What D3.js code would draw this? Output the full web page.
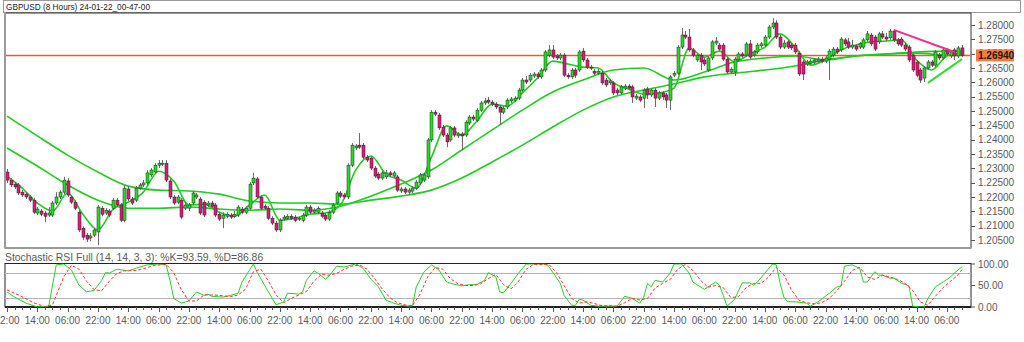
<!DOCTYPE html>
<html><head>
<meta charset="utf-8">
<title>GBPUSD (8 Hours)</title>
<style>
  body {margin:0; background:#fff;}
  svg {display:block; font-family:"Liberation Sans", Arial, sans-serif;}
</style>
</head>
<body>
<script src="https://d3js.org/d3.v7.min.js"></script>
<script>
// ---- data ----
var title = "GBPUSD (8 Hours) 24-01-22_00-47-00";
var stochTitle = "Stochastic RSI Full (14, 14, 3, 3): %K=93.59, %D=86.86";
var lastPrice = 1.2694;
var priceTicks = [1.280,1.275,1.270,1.265,1.260,1.255,1.250,1.245,1.240,1.235,1.230,1.225,1.220,1.215,1.210,1.205];
var stochTicks = [100, 50, 0];
var stochLevels = [80, 20];
var timeLabels = ["22:00","14:00","06:00","22:00","14:00","06:00","22:00","14:00","06:00","22:00",
                  "14:00","06:00","22:00","14:00","06:00","22:00","14:00","06:00","22:00","14:00",
                  "06:00","22:00","14:00","06:00","22:00","14:00","06:00","22:00","14:00","06:00",
                  "14:00","06:00"];

var opens = [1.2287,1.2259,1.2245,1.2242,1.2217,1.2210,1.2200,1.2189,1.2144,1.2151,
1.2144,1.2137,1.2137,1.2179,1.2200,1.2217,1.2256,1.2200,1.2182,1.2147,
1.2091,1.2067,1.2057,1.2067,1.2078,1.2161,1.2144,1.2151,1.2161,1.2189,
1.2172,1.2119,1.2228,1.2193,1.2189,1.2231,1.2242,1.2249,1.2277,1.2287,
1.2311,1.2315,1.2318,1.2256,1.2200,1.2182,1.2189,1.2161,1.2161,1.2179,
1.2200,1.2193,1.2182,1.2172,1.2179,1.2172,1.2140,1.2126,1.2133,1.2137,
1.2133,1.2137,1.2158,1.2147,1.2161,1.2249,1.2263,1.2200,1.2168,1.2161,
1.2126,1.2109,1.2085,1.2123,1.2126,1.2133,1.2130,1.2123,1.2119,1.2137,
1.2165,1.2147,1.2147,1.2144,1.2137,1.2123,1.2147,1.2179,1.2214,1.2207,
1.2200,1.2311,1.2371,1.2381,1.2381,1.2339,1.2336,1.2301,1.2280,1.2266,
1.2270,1.2284,1.2273,1.2270,1.2221,1.2228,1.2217,1.2221,1.2231,1.2249,
1.2259,1.2270,1.2399,1.2496,1.2486,1.2444,1.2416,1.2399,1.2441,1.2413,
1.2420,1.2416,1.2458,1.2479,1.2468,1.2503,1.2528,1.2538,1.2531,1.2524,
1.2514,1.2496,1.2514,1.2535,1.2538,1.2545,1.2573,1.2608,1.2608,1.2622,
1.2629,1.2619,1.2643,1.2695,1.2713,1.2692,1.2685,1.2695,1.2625,1.2619,
1.2643,1.2643,1.2709,1.2678,1.2653,1.2639,1.2632,1.2632,1.2608,1.2598,
1.2598,1.2573,1.2563,1.2580,1.2587,1.2584,1.2545,1.2549,1.2545,1.2577,
1.2556,1.2573,1.2545,1.2563,1.2556,1.2538,1.2625,1.2632,1.2723,1.2765,
1.2758,1.2713,1.2678,1.2695,1.2678,1.2643,1.2685,1.2737,1.2730,1.2730,
1.2681,1.2636,1.2636,1.2678,1.2699,1.2695,1.2734,1.2695,1.2706,1.2727,
1.2730,1.2758,1.2793,1.2807,1.2758,1.2723,1.2741,1.2730,1.2730,1.2702,
1.2671,1.2664,1.2667,1.2671,1.2674,1.2681,1.2674,1.2681,1.2695,1.2716,
1.2713,1.2748,1.2741,1.2723,1.2727,1.2723,1.2723,1.2748,1.2765,1.2758,
1.2741,1.2769,1.2758,1.2755,1.2779,1.2748,1.2751,1.2730,1.2723,1.2695,
1.2671,1.2643,1.2615,1.2650,1.2671,1.2660,1.2695,1.2685,1.2713,1.2692,
1.2713,1.2692,1.2720];

var highs = [1.2298,1.2266,1.2252,1.2249,1.2224,1.2217,1.2207,1.2196,1.2165,1.2158,
1.2151,1.2165,1.2186,1.2217,1.2224,1.2270,1.2266,1.2207,1.2189,1.2154,
1.2098,1.2074,1.2074,1.2091,1.2172,1.2168,1.2161,1.2158,1.2196,1.2196,
1.2179,1.2242,1.2238,1.2200,1.2238,1.2249,1.2259,1.2294,1.2301,1.2318,
1.2329,1.2329,1.2329,1.2263,1.2207,1.2207,1.2196,1.2182,1.2179,1.2221,
1.2214,1.2200,1.2189,1.2186,1.2186,1.2179,1.2147,1.2147,1.2147,1.2144,
1.2151,1.2172,1.2165,1.2168,1.2252,1.2284,1.2270,1.2207,1.2175,1.2168,
1.2133,1.2116,1.2126,1.2137,1.2140,1.2140,1.2137,1.2133,1.2144,1.2172,
1.2172,1.2161,1.2168,1.2151,1.2144,1.2154,1.2179,1.2221,1.2221,1.2214,
1.2318,1.2388,1.2385,1.2423,1.2388,1.2346,1.2343,1.2308,1.2287,1.2291,
1.2294,1.2291,1.2291,1.2277,1.2235,1.2235,1.2231,1.2238,1.2259,1.2284,
1.2284,1.2406,1.2503,1.2503,1.2493,1.2451,1.2423,1.2448,1.2448,1.2427,
1.2427,1.2468,1.2486,1.2486,1.2510,1.2535,1.2545,1.2549,1.2538,1.2531,
1.2521,1.2517,1.2545,1.2549,1.2552,1.2580,1.2615,1.2622,1.2632,1.2636,
1.2636,1.2650,1.2713,1.2730,1.2730,1.2699,1.2702,1.2702,1.2632,1.2650,
1.2650,1.2713,1.2720,1.2685,1.2660,1.2646,1.2646,1.2639,1.2615,1.2612,
1.2605,1.2580,1.2591,1.2594,1.2594,1.2591,1.2559,1.2556,1.2580,1.2584,
1.2580,1.2580,1.2570,1.2570,1.2563,1.2625,1.2639,1.2730,1.2790,1.2779,
1.2786,1.2720,1.2702,1.2702,1.2685,1.2692,1.2748,1.2758,1.2737,1.2737,
1.2688,1.2653,1.2688,1.2706,1.2706,1.2741,1.2748,1.2713,1.2737,1.2741,
1.2765,1.2800,1.2824,1.2817,1.2765,1.2748,1.2748,1.2737,1.2737,1.2709,
1.2678,1.2678,1.2681,1.2685,1.2688,1.2688,1.2692,1.2716,1.2723,1.2723,
1.2758,1.2755,1.2755,1.2748,1.2734,1.2741,1.2755,1.2779,1.2772,1.2765,
1.2776,1.2779,1.2772,1.2786,1.2786,1.2755,1.2758,1.2737,1.2730,1.2702,
1.2678,1.2650,1.2657,1.2678,1.2678,1.2713,1.2702,1.2720,1.2720,1.2713,
1.2720,1.2727,1.2730];

var lows = [1.2249,1.2235,1.2228,1.2207,1.2200,1.2193,1.2182,1.2140,1.2137,1.2133,
1.2112,1.2130,1.2130,1.2172,1.2193,1.2210,1.2200,1.2175,1.2154,1.2078,
1.2050,1.2043,1.2046,1.2060,1.2032,1.2133,1.2137,1.2130,1.2154,1.2165,
1.2112,1.2112,1.2186,1.2172,1.2182,1.2224,1.2235,1.2242,1.2270,1.2280,
1.2301,1.2308,1.2252,1.2193,1.2172,1.2175,1.2123,1.2154,1.2151,1.2172,
1.2193,1.2137,1.2130,1.2165,1.2161,1.2130,1.2116,1.2091,1.2126,1.2123,
1.2126,1.2130,1.2140,1.2140,1.2154,1.2242,1.2193,1.2154,1.2154,1.2119,
1.2102,1.2078,1.2078,1.2116,1.2119,1.2119,1.2112,1.2116,1.2112,1.2130,
1.2140,1.2140,1.2140,1.2126,1.2116,1.2116,1.2140,1.2172,1.2196,1.2193,
1.2193,1.2304,1.2364,1.2367,1.2332,1.2322,1.2294,1.2266,1.2259,1.2259,
1.2263,1.2270,1.2266,1.2217,1.2214,1.2210,1.2207,1.2214,1.2224,1.2242,
1.2252,1.2263,1.2392,1.2482,1.2434,1.2409,1.2374,1.2392,1.2409,1.2406,
1.2364,1.2409,1.2451,1.2465,1.2461,1.2496,1.2521,1.2524,1.2517,1.2507,
1.2451,1.2489,1.2507,1.2528,1.2531,1.2538,1.2566,1.2594,1.2601,1.2615,
1.2612,1.2612,1.2636,1.2688,1.2681,1.2678,1.2678,1.2618,1.2612,1.2612,
1.2615,1.2636,1.2671,1.2646,1.2643,1.2625,1.2625,1.2591,1.2584,1.2591,
1.2556,1.2556,1.2556,1.2573,1.2573,1.2528,1.2538,1.2531,1.2510,1.2542,
1.2549,1.2514,1.2538,1.2538,1.2510,1.2503,1.2618,1.2625,1.2716,1.2751,
1.2706,1.2688,1.2671,1.2643,1.2657,1.2636,1.2678,1.2730,1.2709,1.2674,
1.2629,1.2629,1.2622,1.2671,1.2685,1.2688,1.2681,1.2688,1.2699,1.2720,
1.2723,1.2751,1.2786,1.2751,1.2716,1.2716,1.2716,1.2713,1.2699,1.2622,
1.2608,1.2657,1.2660,1.2664,1.2667,1.2667,1.2667,1.2608,1.2688,1.2699,
1.2706,1.2727,1.2716,1.2716,1.2709,1.2716,1.2716,1.2741,1.2727,1.2709,
1.2734,1.2751,1.2744,1.2748,1.2741,1.2727,1.2723,1.2709,1.2671,1.2636,
1.2618,1.2598,1.2601,1.2643,1.2653,1.2653,1.2678,1.2678,1.2692,1.2685,
1.2678,1.2685,1.2688];

var closes = [1.2259,1.2242,1.2235,1.2214,1.2207,1.2200,1.2189,1.2147,1.2158,1.2140,
1.2133,1.2144,1.2179,1.2200,1.2217,1.2259,1.2207,1.2182,1.2161,1.2085,
1.2060,1.2053,1.2064,1.2085,1.2165,1.2140,1.2154,1.2137,1.2189,1.2172,
1.2119,1.2231,1.2193,1.2179,1.2231,1.2242,1.2249,1.2284,1.2294,1.2311,
1.2318,1.2318,1.2259,1.2200,1.2179,1.2200,1.2130,1.2172,1.2172,1.2214,
1.2207,1.2144,1.2137,1.2179,1.2168,1.2137,1.2123,1.2137,1.2140,1.2130,
1.2140,1.2165,1.2147,1.2161,1.2245,1.2266,1.2200,1.2161,1.2161,1.2126,
1.2109,1.2085,1.2119,1.2130,1.2133,1.2126,1.2119,1.2126,1.2137,1.2165,
1.2147,1.2154,1.2161,1.2133,1.2123,1.2147,1.2172,1.2214,1.2203,1.2200,
1.2311,1.2381,1.2378,1.2374,1.2339,1.2329,1.2301,1.2273,1.2266,1.2284,
1.2284,1.2277,1.2284,1.2224,1.2228,1.2217,1.2224,1.2231,1.2252,1.2277,
1.2277,1.2399,1.2496,1.2489,1.2441,1.2416,1.2392,1.2441,1.2416,1.2420,
1.2413,1.2461,1.2479,1.2472,1.2503,1.2528,1.2535,1.2531,1.2524,1.2514,
1.2496,1.2510,1.2538,1.2542,1.2545,1.2573,1.2608,1.2601,1.2625,1.2629,
1.2619,1.2643,1.2706,1.2713,1.2688,1.2685,1.2695,1.2625,1.2619,1.2643,
1.2625,1.2706,1.2678,1.2653,1.2650,1.2632,1.2639,1.2598,1.2591,1.2605,
1.2563,1.2563,1.2584,1.2587,1.2580,1.2549,1.2552,1.2538,1.2573,1.2556,
1.2573,1.2545,1.2563,1.2549,1.2538,1.2619,1.2632,1.2723,1.2765,1.2758,
1.2713,1.2695,1.2695,1.2671,1.2664,1.2685,1.2741,1.2744,1.2716,1.2681,
1.2636,1.2646,1.2681,1.2699,1.2692,1.2734,1.2688,1.2706,1.2730,1.2734,
1.2758,1.2793,1.2807,1.2758,1.2723,1.2737,1.2723,1.2720,1.2706,1.2629,
1.2629,1.2671,1.2674,1.2678,1.2681,1.2674,1.2685,1.2709,1.2716,1.2706,
1.2751,1.2734,1.2723,1.2730,1.2716,1.2734,1.2748,1.2769,1.2734,1.2716,
1.2769,1.2758,1.2751,1.2779,1.2748,1.2734,1.2730,1.2716,1.2678,1.2643,
1.2625,1.2608,1.2650,1.2671,1.2660,1.2706,1.2685,1.2713,1.2699,1.2706,
1.2692,1.2720,1.2694];

// moving averages, read every 4 bars (fast) and every 8 bars (medium, slow)
var maFast = [1.2273,1.2231,1.2179,1.2151,1.2214,1.2140,1.2085,1.2158,1.2182,1.2217,
1.2290,1.2256,1.2172,1.2175,1.2147,1.2133,1.2172,1.2207,1.2119,1.2126,
1.2140,1.2144,1.2172,1.2294,1.2343,1.2280,1.2259,1.2231,1.2339,1.2448,
1.2416,1.2465,1.2524,1.2517,1.2563,1.2615,1.2674,1.2664,1.2653,1.2650,
1.2598,1.2577,1.2559,1.2563,1.2580,1.2720,1.2688,1.2709,1.2671,1.2699,
1.2723,1.2769,1.2723,1.2660,1.2678,1.2713,1.2730,1.2741,1.2744,1.2748,
1.2678,1.2643,1.2692,1.2702];
var maMid = [1.2371,1.2308,1.2242,1.2189,1.2161,1.2161,1.2165,1.2158,1.2154,1.2158,
1.2154,1.2168,1.2203,1.2245,1.2294,1.2364,1.2434,1.2503,1.2566,1.2608,
1.2643,1.2650,1.2608,1.2636,1.2671,1.2685,1.2692,1.2678,1.2692,1.2699,
1.2702,1.2695,1.2695];
var maSlow = [1.2482,1.2413,1.2346,1.2287,1.2238,1.2224,1.2221,1.2210,1.2186,1.2179,
1.2179,1.2175,1.2189,1.2203,1.2224,1.2266,1.2322,1.2381,1.2444,1.2503,
1.2549,1.2573,1.2594,1.2619,1.2632,1.2643,1.2657,1.2678,1.2692,1.2699,
1.2706,1.2709,1.2709];

// stochastic RSI: [bar, value]
var stochK = [[0,35],[2,23],[5,9],[8,0],[11,2],[13,98],[15,100],[17,86],[19,51],[21,35],[23,39],[25,62],[26,80],[27,79],[29,88],[32,84],[34,90],[37,98],[40,100],[42,98],[43,62],[44,20],[46,9],[48,14],[50,35],[52,27],[53,30],[54,25],[57,23],[59,27],[61,32],[62,58],[65,100],[66,81],[69,35],[71,5],[73,12],[74,32],[77,30],[78,35],[79,62],[81,84],[82,79],[84,65],[85,72],[87,95],[89,93],[91,98],[92,100],[94,90],[96,65],[98,47],[100,16],[102,9],[104,4],[106,2],[107,3],[108,47],[110,81],[112,98],[114,86],[116,58],[118,53],[120,49],[122,52],[124,52],[126,62],[127,80],[129,70],[130,35],[131,33],[133,55],[135,79],[137,100],[142,100],[143,94],[146,55],[147,27],[149,4],[150,4],[151,18],[152,16],[154,4],[156,2],[160,2],[161,2],[163,25],[165,20],[167,9],[168,23],[169,55],[170,47],[171,62],[173,58],[175,79],[176,100],[178,100],[180,79],[181,58],[184,41],[185,47],[187,58],[188,51],[189,27],[190,2],[192,18],[194,56],[196,56],[197,51],[198,58],[200,79],[202,100],[203,98],[204,55],[205,23],[206,12],[208,12],[211,9],[212,2],[214,12],[217,32],[219,47],[220,47],[221,95],[223,98],[225,90],[226,58],[227,58],[229,82],[230,74],[231,74],[233,67],[234,67],[236,56],[238,49],[239,2],[241,0],[242,0],[243,20],[245,47],[247,58],[249,70],[250,79],[252,93.59]];
var stochD = [[0,40],[3,28],[7,10],[10,1],[12,5],[15,70],[17,97],[19,88],[21,60],[23,40],[25,38],[27,60],[29,78],[31,84],[34,85],[36,89],[39,97],[42,99],[44,80],[46,40],[48,14],[50,14],[52,28],[54,28],[56,27],[59,24],[61,28],[63,42],[65,82],[67,88],[69,60],[71,28],[73,10],[75,20],[77,28],[79,36],[81,60],[83,76],[85,74],[87,78],[89,88],[91,95],[93,98],[95,88],[97,66],[99,42],[101,22],[103,10],[105,5],[107,3],[109,30],[111,70],[113,92],[115,88],[117,66],[119,54],[121,50],[123,50],[125,54],[127,66],[129,76],[131,52],[133,42],[135,60],[137,88],[139,99],[143,99],[145,80],[147,50],[149,20],[151,9],[153,12],[155,8],[157,3],[161,2],[163,10],[165,20],[167,16],[169,20],[171,44],[173,55],[175,64],[177,88],[179,99],[181,85],[183,62],[185,46],[187,50],[189,45],[191,22],[193,24],[195,45],[197,55],[199,55],[201,70],[203,92],[205,75],[207,40],[209,15],[211,10],[213,7],[215,10],[217,20],[219,38],[221,60],[223,85],[225,92],[227,70],[229,64],[231,74],[233,70],[235,64],[237,55],[239,38],[241,12],[243,4],[245,25],[247,45],[249,60],[251,75],[252,86.86]];

// hand-drawn trend lines: [bar, price]
var trendDown = [[234,1.2783],[250,1.2706]];
var trendUp = [[243,1.2598],[252,1.2681]];

// ---- layout ----
var W = 1024, H = 342;
var left = 5, right = 971;
var mainTop = 13, mainBot = 248;
var stTop = 263.5, stBot = 307;

var svg = d3.select("body").append("svg").attr("width", W).attr("height", H);

var x = d3.scaleLinear().domain([0, closes.length - 1]).range([7, 962]);
var y = d3.scaleLinear().domain([1.205, 1.28]).range([240, 25]);
var ys = d3.scaleLinear().domain([0, 100]).range([stBot, 264]);

var defs = svg.append("defs");
defs.append("clipPath").attr("id", "clipMain").append("rect")
    .attr("x", left + 1).attr("y", mainTop + 1).attr("width", right - left - 2).attr("height", mainBot - mainTop - 2);
defs.append("clipPath").attr("id", "clipSt").append("rect")
    .attr("x", left + 1).attr("y", stTop).attr("width", right - left - 2).attr("height", stBot - stTop);

// title bar
svg.append("rect").attr("x", 3.5).attr("y", 0.5).attr("width", 1017).attr("height", 12)
    .attr("fill", "#fff").attr("stroke", "#9a9a9a");
svg.append("text").attr("x", 6).attr("y", 10).attr("font-size", 9.5).attr("fill", "#222")
    .attr("textLength", 144).attr("lengthAdjust", "spacingAndGlyphs").text(title);

// main frame
svg.append("rect").attr("x", left).attr("y", mainTop).attr("width", right - left).attr("height", mainBot - mainTop)
    .attr("fill", "#fff").attr("stroke", "#333").attr("stroke-width", 1);
svg.append("line").attr("x1", left).attr("x2", left).attr("y1", 12).attr("y2", mainBot)
    .attr("stroke", "#9a9a9a").attr("stroke-width", 2);
svg.append("line").attr("x1", left).attr("x2", right).attr("y1", mainBot).attr("y2", mainBot)
    .attr("stroke", "#9a9a9a").attr("stroke-width", 2);

var plot = svg.append("g").attr("clip-path", "url(#clipMain)");

// current price line
plot.append("line").attr("x1", left).attr("x2", right)
    .attr("y1", y(lastPrice)).attr("y2", y(lastPrice))
    .attr("stroke", "#d9652b").attr("stroke-width", 1.5);

// moving averages
var maLine = d3.line().x(function(d){ return x(d[0]); }).y(function(d){ return y(d[1]); })
    .curve(d3.curveMonotoneX);
var fastIdx = d3.range(0, 253, 4);
var slowIdx = d3.range(0, 249, 8).concat([252]);
[[fastIdx, maFast], [slowIdx, maMid], [slowIdx, maSlow]].forEach(function(p){
  plot.append("path")
      .attr("d", maLine(p[0].map(function(b, i){ return [b, p[1][i]]; })))
      .attr("fill", "none").attr("stroke", "#1fcc1f").attr("stroke-width", 1.6);
});

// candles
var bars = d3.range(closes.length);
plot.selectAll("line.wick").data(bars).enter().append("line").attr("class", "wick")
    .attr("x1", function(i){ return Math.round(x(i)) + 0.5; })
    .attr("x2", function(i){ return Math.round(x(i)) + 0.5; })
    .attr("y1", function(i){ return y(highs[i]); })
    .attr("y2", function(i){ return y(lows[i]); })
    .attr("stroke", "#6b6b6b").attr("stroke-width", 1);
plot.selectAll("rect.body").data(bars).enter().append("rect").attr("class", "body")
    .attr("x", function(i){ return Math.round(x(i)) - 1; })
    .attr("width", 3)
    .attr("y", function(i){ return y(Math.max(opens[i], closes[i])); })
    .attr("height", function(i){ return Math.max(1, Math.abs(y(opens[i]) - y(closes[i]))); })
    .attr("fill", function(i){ return closes[i] >= opens[i] ? "#21e021" : "#e3167a"; })
    .attr("stroke", "#222").attr("stroke-width", 0.5);

// trend lines
var tl = d3.line().x(function(d){ return x(d[0]); }).y(function(d){ return y(d[1]); });
plot.append("path").attr("d", tl(trendDown)).attr("fill", "none").attr("stroke", "#f0308f").attr("stroke-width", 2);
plot.append("path").attr("d", tl(trendUp)).attr("fill", "none").attr("stroke", "#2fdc2f").attr("stroke-width", 2);

// price axis
var pa = svg.append("g");
pa.selectAll("line").data(priceTicks).enter().append("line")
    .attr("x1", right).attr("x2", right + 4)
    .attr("y1", function(d){ return Math.round(y(d)) + 0.5; })
    .attr("y2", function(d){ return Math.round(y(d)) + 0.5; })
    .attr("stroke", "#555");
pa.selectAll("text").data(priceTicks).enter().append("text")
    .attr("x", right + 7).attr("y", function(d){ return y(d) + 3.5; })
    .attr("font-size", 10).attr("fill", "#5a5a5a")
    .text(function(d){ return d.toFixed(5); });
svg.append("rect").attr("x", right + 5).attr("y", y(lastPrice) - 6).attr("width", 38).attr("height", 12)
    .attr("fill", "#f47b3c");
svg.append("text").attr("x", right + 7).attr("y", y(lastPrice) + 3.5)
    .attr("font-size", 10).attr("font-weight", "bold").attr("fill", "#1a1a1a").text(lastPrice.toFixed(5));

// stochastic panel
svg.append("text").attr("x", 5).attr("y", 261).attr("font-size", 10.4).attr("fill", "#5a5a5a").text(stochTitle);
svg.append("rect").attr("x", left).attr("y", stTop).attr("width", right - left).attr("height", stBot - stTop)
    .attr("fill", "#fff").attr("stroke", "#222").attr("stroke-width", 1);
svg.append("line").attr("x1", left).attr("x2", right).attr("y1", stBot).attr("y2", stBot)
    .attr("stroke", "#222").attr("stroke-width", 2);
svg.selectAll("line.lvl").data(stochLevels).enter().append("line").attr("class", "lvl")
    .attr("x1", left).attr("x2", right)
    .attr("y1", function(d){ return Math.round(ys(d)) + 0.5; })
    .attr("y2", function(d){ return Math.round(ys(d)) + 0.5; })
    .attr("stroke", "#b4b4b4");

var st = svg.append("g").attr("clip-path", "url(#clipSt)");
var sl = d3.line().x(function(d){ return x(d[0]); }).y(function(d){ return ys(d[1]); });
st.append("path").attr("d", sl(stochK)).attr("fill", "none").attr("stroke", "#2ccc2c").attr("stroke-width", 1);
st.append("path").attr("d", sl(stochD)).attr("fill", "none").attr("stroke", "#ff3030").attr("stroke-width", 1)
    .attr("stroke-dasharray", "3,2");

svg.selectAll("line.stick").data(stochTicks).enter().append("line").attr("class", "stick")
    .attr("x1", right).attr("x2", right + 4)
    .attr("y1", function(d){ return ys(d); }).attr("y2", function(d){ return ys(d); })
    .attr("stroke", "#555");
svg.selectAll("text.slab").data(stochTicks).enter().append("text").attr("class", "slab")
    .attr("x", right + 7).attr("y", function(d){ return ys(d) + 3.5; })
    .attr("font-size", 10).attr("fill", "#5a5a5a")
    .text(function(d){ return d.toFixed(2); });

// time axis
var minor = d3.range(0, closes.length, 2);
svg.selectAll("line.tt").data(minor).enter().append("line").attr("class", "tt")
    .attr("x1", function(i){ return Math.round(x(i)) + 0.5; })
    .attr("x2", function(i){ return Math.round(x(i)) + 0.5; })
    .attr("y1", stBot).attr("y2", function(i){ return i % 8 === 0 ? stBot + 5 : stBot + 3; })
    .attr("stroke", "#555");
svg.selectAll("text.tl").data(timeLabels).enter().append("text").attr("class", "tl")
    .attr("x", function(d, k){ return x(k * 8); }).attr("y", 324)
    .attr("text-anchor", "middle").attr("font-size", 10).attr("fill", "#5a5a5a")
    .text(function(d){ return d; });
</script>
</body></html>
